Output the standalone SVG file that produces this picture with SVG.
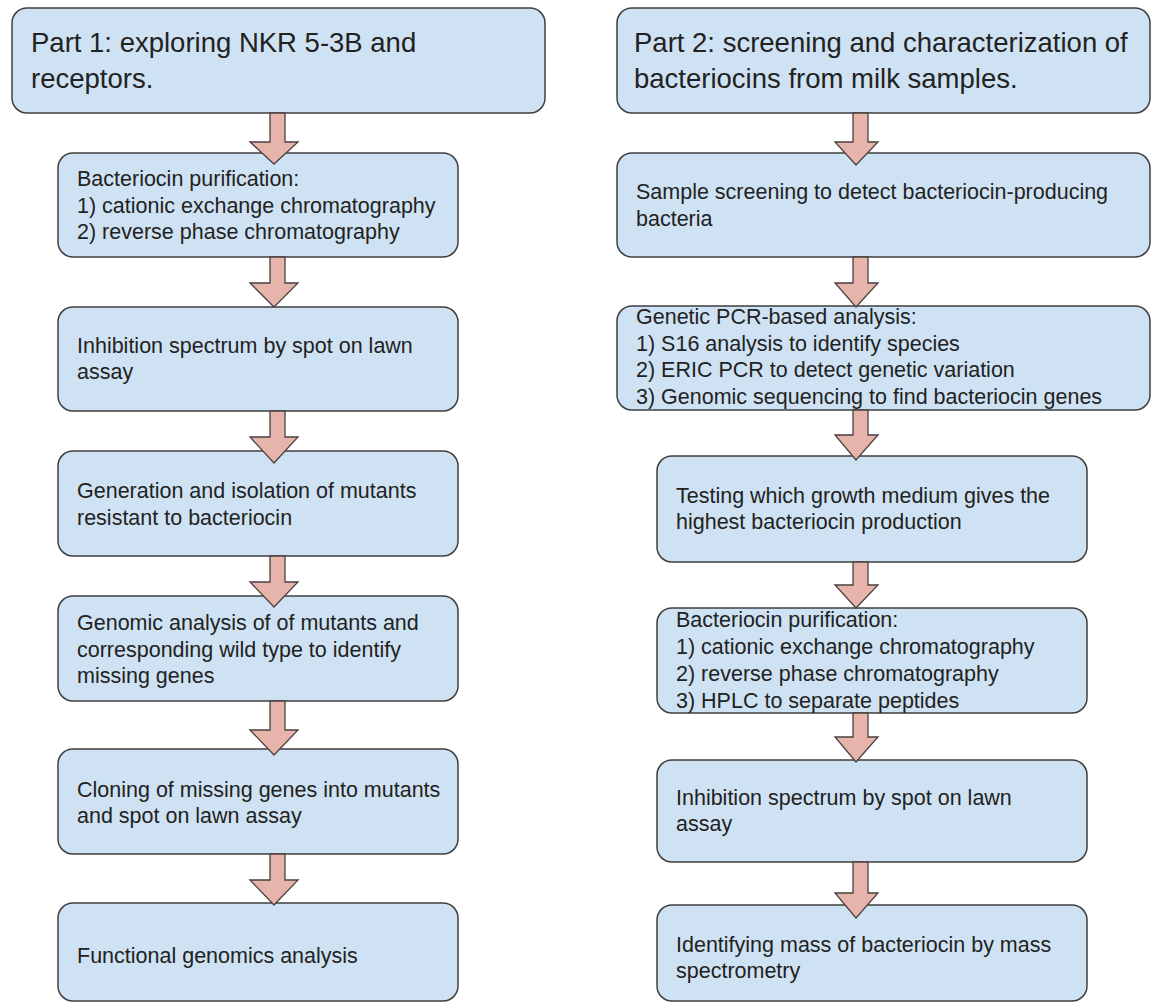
<svg xmlns="http://www.w3.org/2000/svg" width="1156" height="1004" viewBox="0 0 1156 1004">
  <defs>
    <style>
      .box { fill: #cfe2f3; stroke: #3f3f3f; stroke-width: 1.5; }
      .arrow { fill: #e6b4aa; stroke: #4a4040; stroke-width: 1.3; stroke-linejoin: miter; }
      .title { font-family: "Liberation Sans", Arial, sans-serif; font-size: 27.5px; fill: #222; }
      .body { font-family: "Liberation Sans", Arial, sans-serif; font-size: 21.5px; fill: #222; }
    </style>
  </defs>
  <rect width="1156" height="1004" fill="#ffffff"/>

  <!-- Part 1 column -->
  <g id="part1-title">
    <rect class="box" x="12" y="8" width="533" height="105" rx="15"/>
    <text class="title" x="31" y="52">Part 1: exploring NKR 5-3B and</text>
    <text class="title" x="31" y="88">receptors.</text>
  </g>
  <g id="p1-purification">
    <rect class="box" x="58" y="153" width="400" height="104" rx="15"/>
    <text class="body" x="77" y="186">Bacteriocin purification:</text>
    <text class="body" x="77" y="213">1) cationic exchange chromatography</text>
    <text class="body" x="77" y="239">2) reverse phase chromatography</text>
  </g>
  <g id="p1-inhibition">
    <rect class="box" x="58" y="307" width="400" height="104" rx="15"/>
    <text class="body" x="77" y="353">Inhibition spectrum by spot on lawn</text>
    <text class="body" x="77" y="379">assay</text>
  </g>
  <g id="p1-mutants">
    <rect class="box" x="58" y="451" width="400" height="105" rx="15"/>
    <text class="body" x="77" y="498">Generation and isolation of mutants</text>
    <text class="body" x="77" y="525">resistant to bacteriocin</text>
  </g>
  <g id="p1-genomic">
    <rect class="box" x="58" y="596" width="400" height="105" rx="15"/>
    <text class="body" x="77" y="630">Genomic analysis of of mutants and</text>
    <text class="body" x="77" y="657">corresponding wild type to identify</text>
    <text class="body" x="77" y="683">missing genes</text>
  </g>
  <g id="p1-cloning">
    <rect class="box" x="58" y="749" width="400" height="105" rx="15"/>
    <text class="body" x="77" y="797">Cloning of missing genes into mutants</text>
    <text class="body" x="77" y="823">and spot on lawn assay</text>
  </g>
  <g id="p1-functional">
    <rect class="box" x="58" y="903" width="400" height="98" rx="15"/>
    <text class="body" x="77" y="963">Functional genomics analysis</text>
  </g>

  <!-- Part 2 column -->
  <g id="part2-title">
    <rect class="box" x="617" y="8" width="533" height="105" rx="15"/>
    <text class="title" x="634" y="52">Part 2: screening and characterization of</text>
    <text class="title" x="634" y="88">bacteriocins from milk samples.</text>
  </g>
  <g id="p2-screening">
    <rect class="box" x="617" y="153" width="533" height="104" rx="15"/>
    <text class="body" x="636" y="199">Sample screening to detect bacteriocin-producing</text>
    <text class="body" x="636" y="226">bacteria</text>
  </g>
  <g id="p2-pcr">
    <rect class="box" x="617" y="306" width="533" height="104" rx="15"/>
    <text class="body" x="636" y="324">Genetic PCR-based analysis:</text>
    <text class="body" x="636" y="351">1) S16 analysis to identify species</text>
    <text class="body" x="636" y="377">2) ERIC PCR to detect genetic variation</text>
    <text class="body" x="636" y="404">3) Genomic sequencing to find bacteriocin genes</text>
  </g>
  <g id="p2-medium">
    <rect class="box" x="657" y="456" width="430" height="106" rx="15"/>
    <text class="body" x="676" y="503">Testing which growth medium gives the</text>
    <text class="body" x="676" y="529">highest bacteriocin production</text>
  </g>
  <g id="p2-purification">
    <rect class="box" x="657" y="608" width="430" height="105" rx="15"/>
    <text class="body" x="676" y="627">Bacteriocin purification:</text>
    <text class="body" x="676" y="654">1) cationic exchange chromatography</text>
    <text class="body" x="676" y="681">2) reverse phase chromatography</text>
    <text class="body" x="676" y="708">3) HPLC to separate peptides</text>
  </g>
  <g id="p2-inhibition">
    <rect class="box" x="657" y="760" width="430" height="102" rx="15"/>
    <text class="body" x="676" y="805">Inhibition spectrum by spot on lawn</text>
    <text class="body" x="676" y="831">assay</text>
  </g>
  <g id="p2-mass">
    <rect class="box" x="657" y="905" width="430" height="96" rx="15"/>
    <text class="body" x="676" y="952">Identifying mass of bacteriocin by mass</text>
    <text class="body" x="676" y="978">spectrometry</text>
  </g>

  <!-- block arrows between steps -->
  <g id="connectors">
    <path class="arrow" d="M270 113 H285 V142 H298 L274 164 L250 142 H270 Z"/>
    <path class="arrow" d="M270 257 H285 V283 H298 L274 307 L250 283 H270 Z"/>
    <path class="arrow" d="M270 411 H285 V437 H298 L274 463 L250 437 H270 Z"/>
    <path class="arrow" d="M270 556 H285 V582 H298 L274 607 L250 582 H270 Z"/>
    <path class="arrow" d="M270 701 H285 V730 H298 L274 755 L250 730 H270 Z"/>
    <path class="arrow" d="M270 854 H285 V880 H298 L274 905 L250 880 H270 Z"/>

    <path class="arrow" d="M853 113 H868 V142 H878 L856 165 L835 142 H853 Z"/>
    <path class="arrow" d="M853 257 H868 V283 H878 L856 307 L835 283 H853 Z"/>
    <path class="arrow" d="M853 410 H868 V435 H878 L856 460 L835 435 H853 Z"/>
    <path class="arrow" d="M853 562 H868 V585 H878 L856 608 L835 585 H853 Z"/>
    <path class="arrow" d="M853 713 H868 V737 H878 L856 762 L835 737 H853 Z"/>
    <path class="arrow" d="M853 862 H868 V893 H878 L856 918 L835 893 H853 Z"/>
  </g>
</svg>
